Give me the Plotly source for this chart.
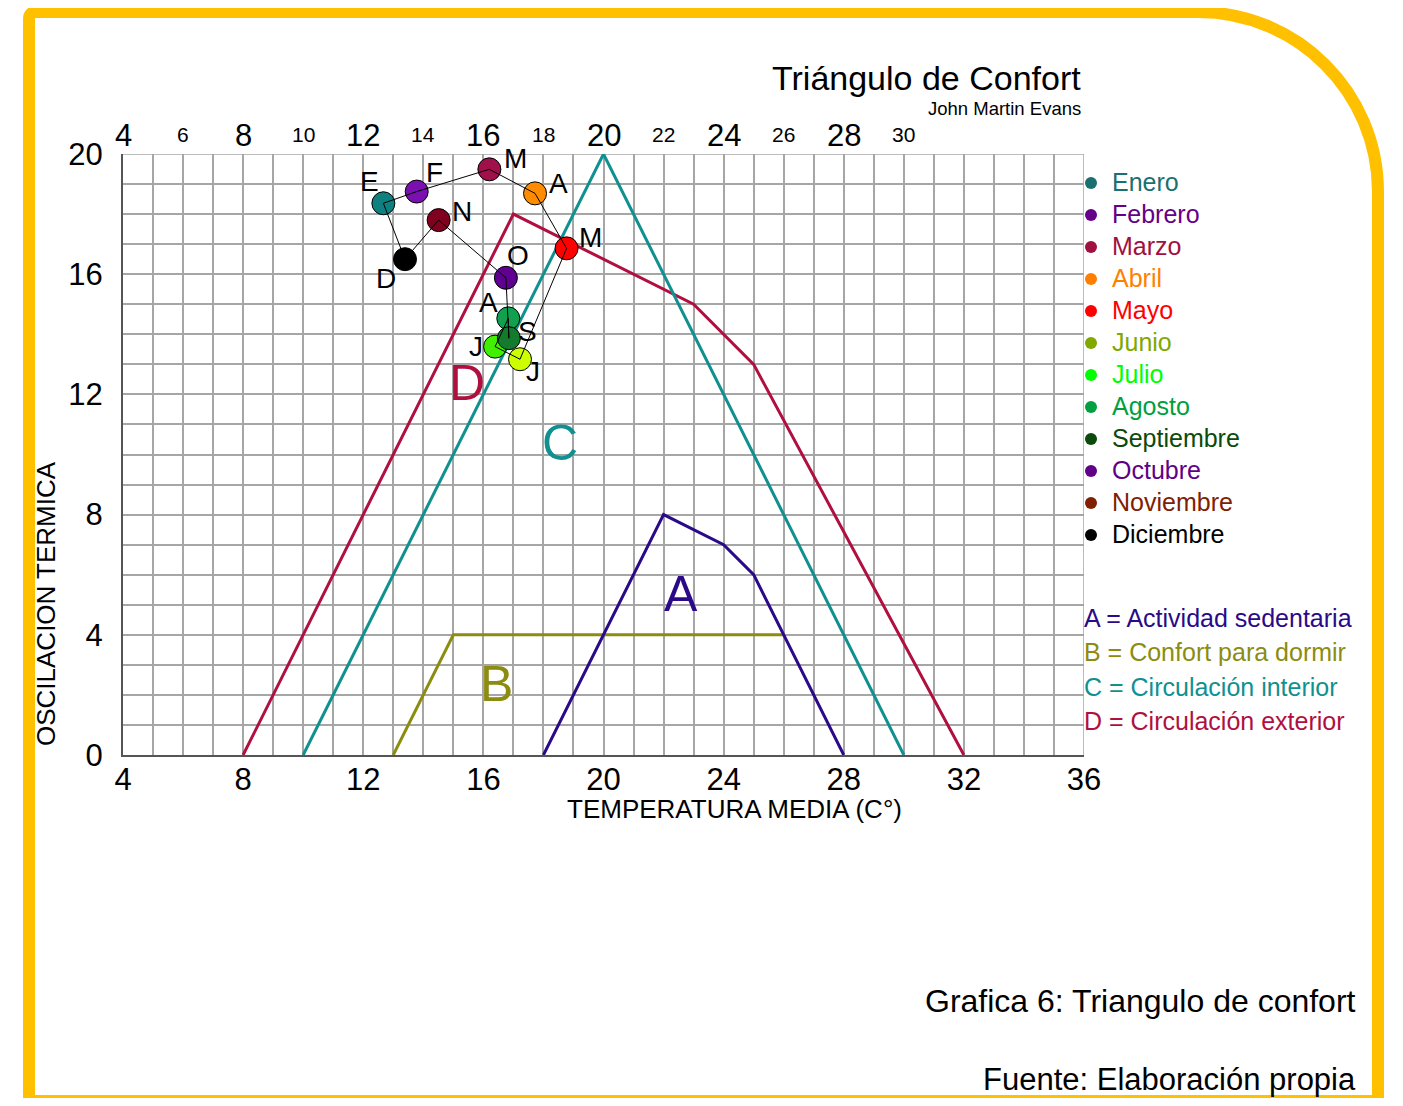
import plotly.graph_objects as go

# ---------------- data ----------------
months = ["Enero", "Febrero", "Marzo", "Abril", "Mayo", "Junio", "Julio",
          "Agosto", "Septiembre", "Octubre", "Noviembre", "Diciembre"]
month_letters = ["E", "F", "M", "A", "M", "J", "J", "A", "S", "O", "N", "D"]
temp_media = [12.67, 13.78, 16.20, 17.72, 18.77, 17.22, 16.39, 16.83, 16.85, 16.75, 14.51, 13.39]
oscilacion = [18.36, 18.75, 19.49, 18.69, 16.86, 13.17, 13.59, 14.53, 13.87, 15.88, 17.80, 16.50]
marker_colors = ["#0f8080", "#7a10b0", "#a0104a", "#ff8c00", "#ff0000", "#ccff00",
                 "#40f000", "#10a050", "#137a2e", "#600090", "#800020", "#000000"]
legend_colors = ["#1a7070", "#660088", "#a01040", "#ff8000", "#ff0000", "#80a800",
                 "#00ff00", "#00a040", "#0a4a0a", "#600088", "#802000", "#000000"]
# label offsets (pixels) of the month letters relative to each point
letter_dx = [-14, 18, 26, 23, 24, 13, -19, -20, 19, 12, 23, -19]
letter_dy = [22, 19, 11, 10, 11, -12, 0, 16, 7, 22, 9, -19]

zone_A_x = [18, 22, 24, 25, 28]
zone_A_y = [0, 8, 7, 6, 0]
zone_B_x = [13, 15, 26]
zone_B_y = [0, 4, 4]
zone_C_x = [10, 20, 30]
zone_C_y = [0, 20, 0]
zone_D_x = [8, 17, 23, 25, 32]
zone_D_y = [0, 18, 15, 13, 0]

zone_names = ["A = Actividad sedentaria", "B = Confort para dormir",
              "C = Circulación interior", "D = Circulación exterior"]
zone_colors = ["#2a0a88", "#8c8c10", "#109090", "#b01040"]
zone_letters = ["A", "B", "C", "D"]
zone_letter_x = [22.58, 16.45, 18.55, 15.45]
zone_letter_y = [5.36, 2.36, 10.38, 12.38]

bottom_ticks = [4, 8, 12, 16, 20, 24, 28, 32, 36]
left_ticks = [0, 4, 8, 12, 16, 20]
top_big_ticks = [4, 8, 12, 16, 20, 24, 28]
top_small_ticks = [6, 10, 14, 18, 22, 26, 30]

# ---------------- layout geometry ----------------
OFF = 8  # browser body margin
W, H = 1387, 1090
ML, MT, PW, PH = 115, 146, 961, 601
MR = W - ML - PW
MB = H - MT - PH


def px(x):
    return (x - OFF - ML) / PW


def py(y):
    return 1 - (y - OFF - MT) / PH


FONT = "Liberation Sans, Arial, sans-serif"
GRID = "#a6a6a6"

fig = go.Figure()

zones = [(zone_D_x, zone_D_y, zone_colors[3]), (zone_C_x, zone_C_y, zone_colors[2]),
         (zone_B_x, zone_B_y, zone_colors[1]), (zone_A_x, zone_A_y, zone_colors[0])]
for zx, zy, zc in zones:
    fig.add_trace(go.Scatter(x=zx, y=zy, mode="lines", line=dict(color=zc, width=3),
                             hoverinfo="skip", showlegend=False))

fig.add_trace(go.Scatter(x=temp_media, y=oscilacion, mode="markers",
                         marker=dict(size=23, color=marker_colors, line=dict(color="#000000", width=1)),
                         text=months, showlegend=False))
fig.add_trace(go.Scatter(x=temp_media + temp_media[:1], y=oscilacion + oscilacion[:1], mode="lines",
                         line=dict(color="#000000", width=1), hoverinfo="skip", showlegend=False))

ann = []
for i in range(len(months)):
    ann.append(dict(x=temp_media[i], y=oscilacion[i], xref="x", yref="y", text=month_letters[i],
                    showarrow=False, xshift=letter_dx[i], yshift=letter_dy[i],
                    font=dict(family=FONT, size=28, color="#000000")))
for i in range(4):
    ann.append(dict(x=zone_letter_x[i], y=zone_letter_y[i], xref="x", yref="y", text=zone_letters[i],
                    showarrow=False, font=dict(family=FONT, size=50, color=zone_colors[i])))

# top axis labels
for t in top_big_ticks:
    ann.append(dict(x=t, y=1, xref="x", yref="paper", yanchor="middle", yshift=19, text=str(t),
                    showarrow=False, font=dict(family=FONT, size=31, color="#000000")))
for t in top_small_ticks:
    ann.append(dict(x=t, y=1, xref="x", yref="paper", yanchor="middle", yshift=20, text=str(t),
                    showarrow=False, font=dict(family=FONT, size=21, color="#000000")))

# month legend
shapes = []
for i, m in enumerate(months):
    yy = 182 + 32 * i
    ann.append(dict(x=px(1110), y=py(yy), xref="paper", yref="paper", xanchor="left", yanchor="middle",
                    text=m, showarrow=False, font=dict(family=FONT, size=25, color=legend_colors[i])))
    shapes.append(dict(type="circle", xref="paper", yref="paper",
                       x0=px(1085), x1=px(1097), y0=py(yy + 7), y1=py(yy - 5),
                       fillcolor=legend_colors[i], line=dict(width=0)))

# zone legend
for i, z in enumerate(zone_names):
    yy = 618 + 34.3 * i
    ann.append(dict(x=px(1082), y=py(yy), xref="paper", yref="paper", xanchor="left", yanchor="middle",
                    text=z, showarrow=False, font=dict(family=FONT, size=25, color=zone_colors[i])))

# titles
ann.append(dict(x=px(1083), y=py(78), xref="paper", yref="paper", xanchor="right", yanchor="middle",
                text="Triángulo de Confort", showarrow=False, font=dict(family=FONT, size=34, color="#000000")))
ann.append(dict(x=px(1083), y=py(108), xref="paper", yref="paper", xanchor="right", yanchor="middle",
                text="John Martin Evans", showarrow=False, font=dict(family=FONT, size=18.5, color="#000000")))
ann.append(dict(x=px(734), y=py(809), xref="paper", yref="paper", xanchor="center", yanchor="middle",
                text="TEMPERATURA MEDIA (C°)", showarrow=False, font=dict(family=FONT, size=26, color="#000000")))
ann.append(dict(x=px(46), y=py(604), xref="paper", yref="paper", xanchor="center", yanchor="middle",
                text="OSCILACION TERMICA", textangle=-90, showarrow=False,
                font=dict(family=FONT, size=26, color="#000000")))
ann.append(dict(x=px(1358), y=py(1001), xref="paper", yref="paper", xanchor="right", yanchor="middle",
                text="Grafica 6: Triangulo de confort", showarrow=False,
                font=dict(family=FONT, size=32, color="#000000")))
ann.append(dict(x=px(1358), y=py(1079), xref="paper", yref="paper", xanchor="right", yanchor="middle",
                text="Fuente: Elaboración propia", showarrow=False,
                font=dict(family=FONT, size=31, color="#000000")))

# plot border on top/right (grid colour)
shapes.append(dict(type="line", xref="x", yref="paper", x0=36, x1=36, y0=0, y1=1,
                   line=dict(color=GRID, width=1.5), layer="below"))
shapes.append(dict(type="line", xref="paper", yref="y", x0=0, x1=1, y0=20, y1=20,
                   line=dict(color=GRID, width=1.5), layer="below"))

# yellow frame
k = 0.5523
L, T, R, B = 29, 12, 1378, 1099
r = 180
r0 = 7
path = (f"M {px(L)},{py(B + 20)} L {px(L)},{py(T + r0)} Q {px(L)},{py(T)} {px(L + r0)},{py(T)} "
        f"L {px(R - r)},{py(T)} C {px(R - r + r * k)},{py(T)} {px(R)},{py(T + r - r * k)} {px(R)},{py(T + r)} "
        f"L {px(R)},{py(B + 20)}")
shapes.append(dict(type="path", xref="paper", yref="paper", path=path,
                   line=dict(color="#ffc000", width=12), layer="above"))
shapes.append(dict(type="line", xref="paper", yref="paper", x0=px(L), x1=px(R), y0=py(B), y1=py(B),
                   line=dict(color="#ffc000", width=8), layer="above"))

fig.update_layout(
    width=W, height=H,
    margin=dict(l=ML, r=MR, t=MT, b=MB, pad=0),
    paper_bgcolor="#ffffff", plot_bgcolor="#ffffff",
    showlegend=False,
    annotations=ann, shapes=shapes,
    font=dict(family=FONT, color="#000000"),
    xaxis=dict(range=[4, 36], tickvals=bottom_ticks, ticktext=[str(t) for t in bottom_ticks],
               showgrid=True, gridcolor=GRID, gridwidth=1.5, zeroline=False,
               minor=dict(dtick=1, tick0=0, showgrid=True, gridcolor=GRID, gridwidth=1.5),
               showline=True, linecolor="#555555", linewidth=2,
               ticks="outside", ticklen=0, ticklabelstandoff=-4,
               tickfont=dict(family=FONT, size=31, color="#000000"), fixedrange=True),
    yaxis=dict(range=[0, 20], tickvals=left_ticks, ticktext=[str(t) for t in left_ticks],
               showgrid=True, gridcolor=GRID, gridwidth=1.5, zeroline=False,
               minor=dict(dtick=1, tick0=0, showgrid=True, gridcolor=GRID, gridwidth=1.5),
               showline=True, linecolor="#555555", linewidth=2,
               ticks="outside", ticklen=0, ticklabelstandoff=12,
               tickfont=dict(family=FONT, size=31, color="#000000"), fixedrange=True),
)

fig.write_html("out.html")
